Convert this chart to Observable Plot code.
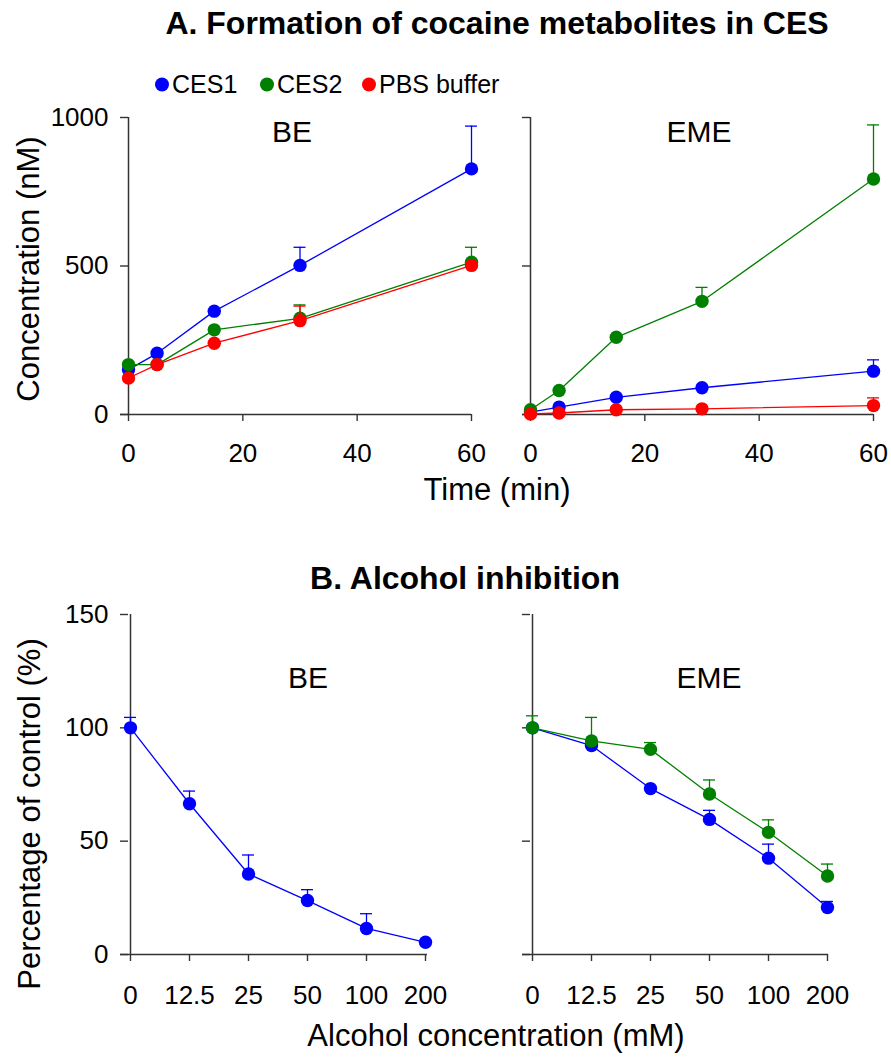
<!DOCTYPE html>
<html>
<head>
<meta charset="utf-8">
<script src="https://cdn.jsdelivr.net/npm/d3@7"></script>
<script src="https://cdn.jsdelivr.net/npm/@observablehq/plot@0.6"></script>
<style>
  html, body { margin: 0; padding: 0; background: #fff; }
  #root { position: relative; width: 891px; height: 1057px; background: #fff; overflow: hidden;
          font-family: "Liberation Sans", Arial, sans-serif; color: #000; }
  .lbl { position: absolute; transform: translate(-50%, -50%); white-space: nowrap; line-height: 1; }
  .rot { transform: translate(-50%, -50%) rotate(-90deg); }
  .panel { position: absolute; }
  .leg { position: absolute; display: flex; align-items: center; font-size: 25px; line-height: 1; transform: translateY(-50%); }
  .leg span.dot { display: inline-block; width: 14px; height: 14px; border-radius: 50%; margin-right: 3px; }
</style>
</head>
<body>
<div id="root"></div>
<script>
// ---------------- data ----------------
const seriesNames = ["CES1", "CES2", "PBS buffer"];
const seriesColors = ["#0000ff", "#008000", "#ff0000"];

const timeMin = [0, 5, 15, 30, 60];
const timeTicks = [0, 20, 40, 60];
const concTicks = [0, 500, 1000];

// Panel A – BE (nM)
const beCES1 = [151, 206, 348, 502, 827];
const beCES1Sd = [null, null, null, 61, 144];
const beCES2 = [168, 168, 285, 324, 513];
const beCES2Sd = [null, null, null, 45, 50];
const bePBS = [123, 168, 240, 316, 502];
const bePBSSd = [null, null, null, 49, null];

// Panel A – EME (nM)
const emeCES1 = [8, 25, 58, 90, 146];
const emeCES1Sd = [null, null, null, null, 38];
const emeCES2 = [16, 81, 260, 381, 793];
const emeCES2Sd = [null, null, null, 47, 182];
const emePBS = [2, 5, 16, 19, 30];
const emePBSSd = [null, null, null, null, 26];

// Panel B – alcohol inhibition (% of control)
const alcoholMM = ["0", "12.5", "25", "50", "100", "200"];
const pctTicks = [0, 50, 100, 150];
const inhBECES1 = [100, 66.5, 35.5, 23.8, 11.5, 5.4];
const inhBECES1Sd = [4.6, 5.6, 8.4, 4.8, 6.5, null];
const inhEMECES1 = [100, 92.2, 73.2, 59.6, 42.5, 20.7];
const inhEMECES1Sd = [null, null, null, 4, 6.2, 2.7];
const inhEMECES2 = [100, 94.2, 90.5, 70.8, 53.9, 34.6];
const inhEMECES2Sd = [5.3, 10.4, 3, 6.2, 5.5, 5.3];

// ---------------- helpers ----------------
const rows = (xs, vs, sds) => xs.map((x, i) => ({x, v: vs[i], sd: sds[i]}));

function seriesMarks(data, color) {
  const withErr = data.filter(d => d.sd != null);
  return [
    Plot.ruleX(withErr, {x: "x", y1: "v", y2: d => d.v + d.sd, stroke: color, strokeWidth: 1.3}),
    Plot.ruleY(withErr, {x1: "x", x2: "x", y: d => d.v + d.sd, insetLeft: -6, insetRight: -6, stroke: color, strokeWidth: 1.3}),
    Plot.line(data, {x: "x", y: "v", stroke: color, strokeWidth: 1.3}),
    Plot.dot(data, {x: "x", y: "v", fill: color, r: 6.7})
  ];
}

function makePanel({width, height, mL, mR, mT, mB, x, xTicks, yDomain, yTicks, yLabels, xPad, series}) {
  return Plot.plot({
    width, height,
    marginLeft: mL, marginRight: mR, marginTop: mT, marginBottom: mB,
    style: {fontFamily: '"Liberation Sans", Arial, sans-serif', fontSize: "26px", color: "#000", background: "transparent", overflow: "visible"},
    x,
    y: {domain: yDomain},
    marks: [
      Plot.axisX({ticks: xTicks, tickSize: 7, tickPadding: xPad, label: null, stroke: "#333", strokeWidth: 1.4, fill: "#000", fontSize: 26}),
      Plot.axisY({ticks: yTicks, tickSize: 8, tickPadding: 12, label: null, stroke: "#333", strokeWidth: 1.4, fill: "#000", fontSize: 26,
                  tickFormat: yLabels ? (d => String(d)) : (() => "")}),
      Plot.ruleX(xTicks.slice(0, 1), {stroke: "#333", strokeWidth: 1.5}),
      Plot.ruleY(yTicks.slice(0, 1), {stroke: "#333", strokeWidth: 1.5, insetLeft: -8}),
      ...series.flatMap(([data, color]) => seriesMarks(data, color))
    ]
  });
}

// ---------------- layout ----------------
const root = document.getElementById("root");
function addLabel(text, cx, cy, size, extra = "") {
  const d = document.createElement("div");
  d.className = "lbl " + extra;
  d.style.left = cx + "px"; d.style.top = cy + "px"; d.style.fontSize = size + "px";
  d.textContent = text;
  root.appendChild(d);
  return d;
}
function addPanel(svg, left, top) {
  const d = document.createElement("div");
  d.className = "panel"; d.style.left = left + "px"; d.style.top = top + "px";
  d.appendChild(svg); root.appendChild(d);
}

// Panel A
const linX = {type: "linear", domain: [timeMin[0], timeMin[timeMin.length - 1]]};
addPanel(makePanel({
  width: 490, height: 380, mL: 128, mR: 19, mT: 22, mB: 61,
  x: linX, xTicks: timeTicks, yDomain: [concTicks[0], concTicks[2]], yTicks: concTicks, yLabels: true, xPad: 22,
  series: [[rows(timeMin, beCES1, beCES1Sd), seriesColors[0]],
           [rows(timeMin, beCES2, beCES2Sd), seriesColors[1]],
           [rows(timeMin, bePBS, bePBSSd), seriesColors[2]]]
}), 0, 95);
addPanel(makePanel({
  width: 401, height: 380, mL: 40, mR: 18, mT: 22, mB: 61,
  x: linX, xTicks: timeTicks, yDomain: [concTicks[0], concTicks[2]], yTicks: concTicks, yLabels: false, xPad: 22,
  series: [[rows(timeMin, emeCES1, emeCES1Sd), seriesColors[0]],
           [rows(timeMin, emeCES2, emeCES2Sd), seriesColors[1]],
           [rows(timeMin, emePBS, emePBSSd), seriesColors[2]]]
}), 490, 95);

// Panel B
const ptX = {type: "point", domain: alcoholMM, padding: 0};
addPanel(makePanel({
  width: 490, height: 430, mL: 128, mR: 63, mT: 24, mB: 66,
  x: ptX, xTicks: alcoholMM, yDomain: [pctTicks[0], pctTicks[3]], yTicks: pctTicks, yLabels: true, xPad: 24,
  series: [[rows(alcoholMM, inhBECES1, inhBECES1Sd), seriesColors[0]]]
}), 0, 590);
addPanel(makePanel({
  width: 401, height: 430, mL: 40, mR: 63, mT: 24, mB: 66,
  x: ptX, xTicks: alcoholMM, yDomain: [pctTicks[0], pctTicks[3]], yTicks: pctTicks, yLabels: false, xPad: 24,
  series: [[rows(alcoholMM, inhEMECES1, inhEMECES1Sd), seriesColors[0]],
           [rows(alcoholMM, inhEMECES2, inhEMECES2Sd), seriesColors[1]]]
}), 490, 590);

// Titles and labels
addLabel("A. Formation of cocaine metabolites in CES", 497, 23, 32).style.fontWeight = "bold";
addLabel("B. Alcohol inhibition", 465, 578, 32).style.fontWeight = "bold";
addLabel("Concentration (nM)", 28, 269, 31, "rot");
addLabel("Time (min)", 497, 489, 31);
addLabel("Percentage of control (%)", 29, 814, 31, "rot");
addLabel("Alcohol concentration (mM)", 496, 1035, 31);
addLabel("BE", 292, 132, 30);
addLabel("EME", 699, 132, 30);
addLabel("BE", 308, 678, 30);
addLabel("EME", 709, 678, 30);

// Legend
const legX = [155, 260, 362];
seriesNames.forEach((name, i) => {
  const d = document.createElement("div");
  d.className = "leg";
  d.style.left = legX[i] + "px"; d.style.top = "84px";
  const dot = document.createElement("span");
  dot.className = "dot"; dot.style.background = seriesColors[i];
  d.appendChild(dot);
  d.appendChild(document.createTextNode(name));
  root.appendChild(d);
});
</script>
</body>
</html>
